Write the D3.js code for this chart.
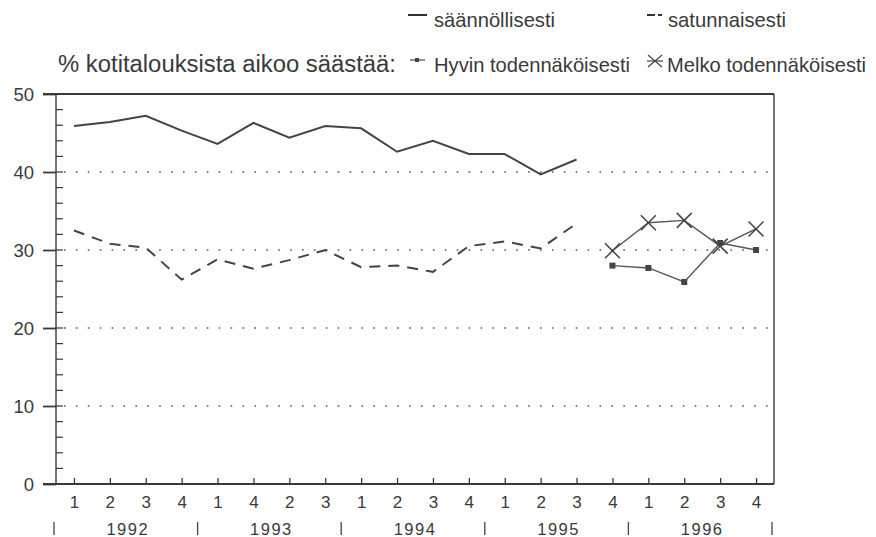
<!DOCTYPE html>
<html>
<head>
<meta charset="utf-8">
<script src="https://cdn.jsdelivr.net/npm/d3@7"></script>
<style>
  html, body { margin: 0; padding: 0; background: #fff; }
  svg { display: block; }
  text { fill: #3a3a3a; }
</style>
</head>
<body>
<svg id="chart" width="876" height="537"></svg>
<script>
// Quarter labels along the x axis (as printed), and the year groups below them
const quarters = ["1","2","3","4","1","4","2","3","1","2","3","4","1","2","3","4","1","2","3","4"];
const years = ["1992", "1993", "1994", "1995", "1996"];

// Share of households planning to save (%)
const saannollisesti = [45.9, 46.4, 47.2, 45.3, 43.6, 46.3, 44.4, 45.9, 45.6, 42.6, 44.0, 42.3, 42.3, 39.7, 41.6];
const satunnaisesti  = [32.5, 30.8, 30.3, 26.2, 28.8, 27.6, 28.7, 30.0, 27.8, 28.0, 27.2, 30.5, 31.1, 30.2, 33.4];
// The new question series start at the 16th quarter
const newStart = 15;
const hyvin = [28.0, 27.7, 25.9, 30.9, 30.0];
const melko = [29.9, 33.5, 33.8, 30.5, 32.7];

const yTicks = [0, 10, 20, 30, 40, 50];
const yMinor = d3.range(0, 51, 2);

const svg = d3.select("#chart");
const ink = "#3a3a3a";
const sans = "Liberation Sans, Arial, sans-serif";
const plotL = 56, plotR = 774, plotT = 94, plotB = 484;

const x = d3.scalePoint().domain(d3.range(quarters.length)).range([plotL, plotR]).padding(0.5);
const band = x.step();
const y = d3.scaleLinear().domain([0, 50]).range([plotB, plotT]);

// Dotted grid lines
svg.append("g").selectAll("line").data(yTicks.filter(d => d > 0 && d < 50)).join("line")
  .attr("x1", plotL + 8).attr("x2", plotR)
  .attr("y1", d => y(d)).attr("y2", d => y(d))
  .attr("stroke", "#555").attr("stroke-width", 1.6)
  .attr("stroke-dasharray", "1.6 10.3");

// Y axis: major ticks outside, minor ticks inside
const yAxis = svg.append("g").attr("transform", `translate(${plotL},0)`)
  .call(d3.axisLeft(y).tickValues(yTicks).tickSize(13).tickFormat(d3.format("d")));
yAxis.select(".domain").remove();
yAxis.selectAll(".tick line").attr("stroke", ink).attr("stroke-width", 1.8);
yAxis.selectAll(".tick text")
  .attr("x", -22).attr("dy", "0.36em")
  .style("font-family", sans).style("font-size", "18.5px").style("fill", ink);
svg.append("g").selectAll("line").data(yMinor).join("line")
  .attr("x1", plotL).attr("x2", plotL + 7)
  .attr("y1", d => y(d)).attr("y2", d => y(d))
  .attr("stroke", ink).attr("stroke-width", 1.2);

// Frame
svg.append("line").attr("x1", plotL).attr("x2", plotL).attr("y1", plotT).attr("y2", plotB)
  .attr("stroke", ink).attr("stroke-width", 1.4);
svg.append("line").attr("x1", plotR).attr("x2", plotR).attr("y1", plotT).attr("y2", plotB)
  .attr("stroke", ink).attr("stroke-width", 1.4);
svg.append("line").attr("x1", plotL - 13).attr("x2", plotR).attr("y1", plotT).attr("y2", plotT)
  .attr("stroke", ink).attr("stroke-width", 2);
svg.append("line").attr("x1", plotL - 13).attr("x2", plotR).attr("y1", plotB).attr("y2", plotB)
  .attr("stroke", ink).attr("stroke-width", 1.8);

// X axis: quarter ticks pointing inward, quarter and year labels
const xAxis = svg.append("g").attr("transform", `translate(0,${plotB})`)
  .call(d3.axisTop(x).tickSize(6).tickFormat(i => quarters[i]));
xAxis.select(".domain").remove();
xAxis.selectAll(".tick line").attr("stroke", ink).attr("stroke-width", 1.3);
xAxis.selectAll(".tick text")
  .attr("y", 18).attr("dy", "0.36em")
  .style("font-family", sans).style("font-size", "17px").style("fill", ink);

const yearRow = svg.append("g").style("font-family", sans).style("font-size", "16.5px")
  .style("letter-spacing", "1.5px");
yearRow.selectAll("text").data(years).join("text")
  .attr("x", (d, k) => (x(k * 4 + 1) + x(k * 4 + 2)) / 2)
  .attr("y", 529).attr("dy", "0.36em")
  .attr("text-anchor", "middle").text(d => d);
yearRow.selectAll("line").data(d3.range(0, years.length + 1)).join("line")
  .attr("x1", k => plotL + k * 4 * band - 2).attr("x2", k => plotL + k * 4 * band - 2)
  .attr("y1", 522).attr("y2", 535)
  .attr("stroke", "#444").attr("stroke-width", 1.3);

// Series lines
const line = d3.line().x(d => x(d.i)).y(d => y(d.v));
const pts = (arr, off) => arr.map((v, k) => ({ i: k + off, v }));

svg.append("path").datum(pts(saannollisesti, 0)).attr("d", line)
  .attr("fill", "none").attr("stroke", "#444").attr("stroke-width", 2);
svg.append("path").datum(pts(satunnaisesti, 0)).attr("d", line)
  .attr("fill", "none").attr("stroke", "#444").attr("stroke-width", 2)
  .attr("stroke-dasharray", "11 8");

const hyvinPts = pts(hyvin, newStart);
const melkoPts = pts(melko, newStart);
svg.append("path").datum(hyvinPts).attr("d", line)
  .attr("fill", "none").attr("stroke", "#555").attr("stroke-width", 1.4);
svg.append("path").datum(melkoPts).attr("d", line)
  .attr("fill", "none").attr("stroke", "#555").attr("stroke-width", 1.4);

svg.append("g").selectAll("rect").data(hyvinPts).join("rect")
  .attr("x", d => x(d.i) - 3).attr("y", d => y(d.v) - 3)
  .attr("width", 6).attr("height", 6).attr("fill", "#444");

const cross = (g, cx, cy, rx, ry, w) => {
  g.append("line").attr("x1", cx - rx).attr("y1", cy - ry).attr("x2", cx + rx).attr("y2", cy + ry)
    .attr("stroke", "#444").attr("stroke-width", w);
  g.append("line").attr("x1", cx - rx).attr("y1", cy + ry).attr("x2", cx + rx).attr("y2", cy - ry)
    .attr("stroke", "#444").attr("stroke-width", w);
};
const crosses = svg.append("g");
melkoPts.forEach(d => cross(crosses, x(d.i), y(d.v), 7.5, 7.5, 1.5));

// Legend (slightly condensed lettering for the series names)
const lg = svg.append("g").style("font-family", sans);
const condensed = (tx, ty, w, str) =>
  lg.append("text").attr("x", tx).attr("y", ty)
    .attr("textLength", w).attr("lengthAdjust", "spacingAndGlyphs")
    .style("font-size", "21px").text(str);

lg.append("line").attr("x1", 408).attr("x2", 427).attr("y1", 15).attr("y2", 15)
  .attr("stroke", "#333").attr("stroke-width", 2);
condensed(434, 27, 121, "säännöllisesti");
lg.append("line").attr("x1", 647).attr("x2", 662).attr("y1", 15).attr("y2", 15)
  .attr("stroke", "#333").attr("stroke-width", 2).attr("stroke-dasharray", "8 3 4 3");
condensed(668, 27, 118, "satunnaisesti");

lg.append("text").attr("x", 58).attr("y", 72)
  .attr("textLength", 338).attr("lengthAdjust", "spacingAndGlyphs")
  .style("font-size", "23px")
  .text("% kotitalouksista aikoo säästää:");
lg.append("line").attr("x1", 410).attr("x2", 425).attr("y1", 60).attr("y2", 60)
  .attr("stroke", "#444").attr("stroke-width", 1.2);
lg.append("rect").attr("x", 415).attr("y", 58).attr("width", 4).attr("height", 4).attr("fill", "#444");
condensed(434, 72, 196, "Hyvin todennäköisesti");
lg.append("line").attr("x1", 647).attr("x2", 663).attr("y1", 61).attr("y2", 61)
  .attr("stroke", "#444").attr("stroke-width", 1.2);
cross(lg, 655, 61, 7, 6, 1.2);
condensed(667, 72, 199, "Melko todennäköisesti");
</script>
</body>
</html>
